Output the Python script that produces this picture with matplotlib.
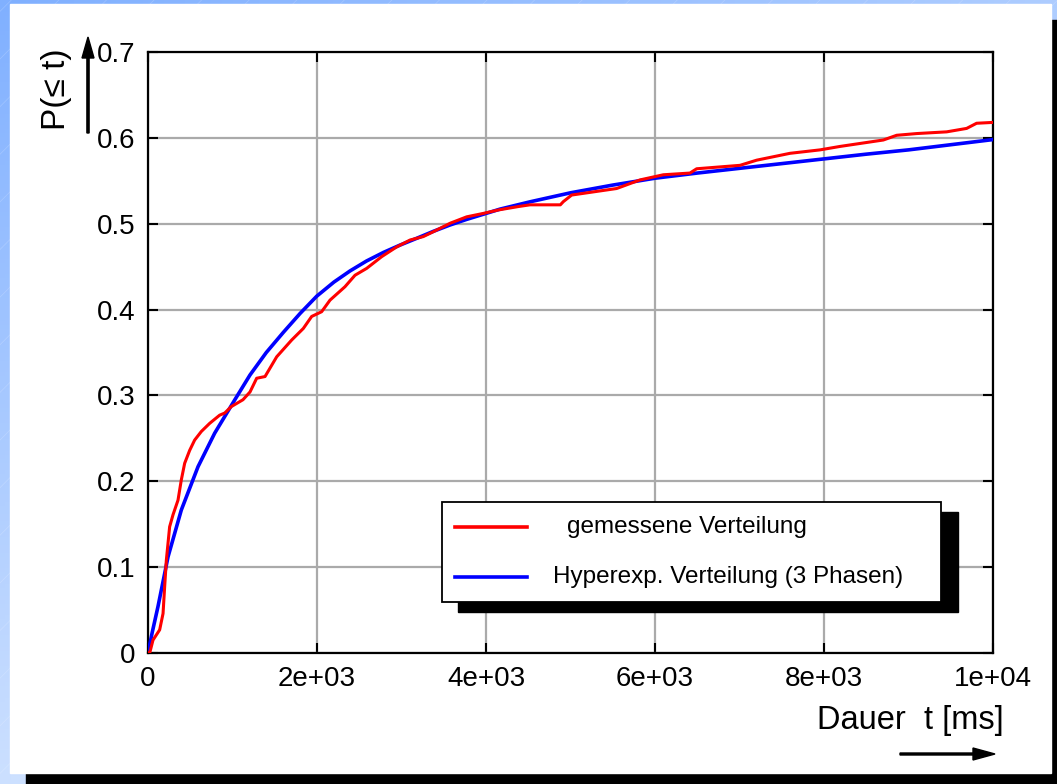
import numpy as np
import matplotlib
matplotlib.use("Agg")
import matplotlib.pyplot as plt
from matplotlib.patches import Rectangle, FancyArrow
from matplotlib.lines import Line2D

plt.rcParams['font.family'] = ['Liberation Sans', 'DejaVu Sans']

# ---- data ----
t_meas = [0, 20, 59, 138, 178, 197, 217, 256, 296, 355, 394, 434, 493, 552, 631, 730,
          848, 908, 986, 1124, 1207, 1286, 1385, 1523, 1700, 1838, 1937, 2055, 2154,
          2331, 2450, 2588, 2765, 2943, 3101, 3258, 3377, 3574, 3771, 3968, 4146, 4383,
          4521, 4880, 4915, 5014, 5546, 5822, 6098, 6414, 6493, 7006, 7203, 7598, 7953,
          8189, 8702, 8860, 9097, 9452, 9688, 9806, 10000]
p_meas = [0, 0, 0.015, 0.027, 0.046, 0.077, 0.108, 0.147, 0.161, 0.178, 0.2015, 0.221,
          0.236, 0.248, 0.258, 0.2675, 0.277, 0.2795, 0.287, 0.295, 0.304, 0.320, 0.322,
          0.345, 0.3645, 0.378, 0.392, 0.3975, 0.411, 0.4266, 0.440, 0.448, 0.4616,
          0.473, 0.481, 0.485, 0.4907, 0.5005, 0.508, 0.512, 0.516, 0.520, 0.522, 0.522,
          0.5257, 0.5334, 0.541, 0.551, 0.557, 0.559, 0.564, 0.568, 0.574, 0.582, 0.586,
          0.590, 0.5975, 0.603, 0.605, 0.607, 0.611, 0.617, 0.618]

t_fit = [0, 50, 118, 237, 394, 592, 789, 1026, 1207, 1400, 1602, 1800, 1996, 2200,
         2391, 2585, 2785, 2980, 3180, 3374, 3574, 3770, 3968, 4166, 4521, 5000, 5500,
         6000, 6500, 7000, 7500, 8000, 8500, 9000, 9500, 10000]
p_fit = [0, 0.024, 0.054, 0.112, 0.1665, 0.217, 0.256, 0.2947, 0.3238, 0.350, 0.3735,
         0.3955, 0.4155, 0.432, 0.445, 0.4565, 0.4665, 0.475, 0.483, 0.491, 0.4985, 0.505,
         0.511, 0.517, 0.5255, 0.536, 0.545, 0.553, 0.559, 0.5645, 0.570, 0.5755, 0.581,
         0.586, 0.592, 0.598]

xticks = [0, 2000, 4000, 6000, 8000, 10000]
xticklabels = ["0", "2e+03", "4e+03", "6e+03", "8e+03", "1e+04"]
yticks = [0, 0.1, 0.2, 0.3, 0.4, 0.5, 0.6, 0.7]
yticklabels = ["0", "0.1", "0.2", "0.3", "0.4", "0.5", "0.6", "0.7"]

W, H = 1057, 784
fig = plt.figure(figsize=(W / 100, H / 100), dpi=100)

def fx(px):
    return px / W

def fy(py):
    return 1 - py / H

# background gradient
bg = fig.add_axes([0, 0, 1, 1], zorder=-10)
yy, xx = np.mgrid[0:1:200j, 0:1:200j]
g = np.clip((xx * 0.6 + yy * 1.0), 0, 1)
c0 = np.array([0x80, 0xb0, 0xff]) / 255
c1 = np.array([0xcc, 0xe0, 0xff]) / 255
img = c0[None, None, :] * (1 - g[..., None]) + c1[None, None, :] * g[..., None]
bg.imshow(img, extent=[0, 1, 0, 1], aspect='auto', origin='upper')
for k in np.arange(-1.0, 1.0, 0.045):
    bg.plot([k, k + 1.0], [0, 1.35], color='white', lw=0.5, alpha=0.2)
bg.set_xlim(0, 1)
bg.set_ylim(0, 1)
bg.axis('off')

# panel shadow + white panel
fig.patches.append(Rectangle((fx(26), fy(784)), fx(1057 - 26), 11 / H,
                             transform=fig.transFigure, color='black', zorder=-5))
fig.patches.append(Rectangle((fx(1051), fy(784)), fx(6), (784 - 20) / H,
                             transform=fig.transFigure, color='black', zorder=-5))
fig.patches.append(Rectangle((fx(10), fy(773)), fx(1041), (773 - 4) / H,
                             transform=fig.transFigure, color='white', zorder=-4))

ax = fig.add_axes([fx(148), fy(653), fx(993 - 148), (653 - 52) / H])
ax.set_facecolor('white')
ax.plot(t_fit, p_fit, color='#0000ff', lw=2.6, zorder=3)
ax.plot(t_meas, p_meas, color='#ff0000', lw=2.2, zorder=4)
ax.set_xlim(0, 10000)
ax.set_ylim(0, 0.7)
ax.set_xticks(xticks)
ax.set_xticklabels(xticklabels)
ax.set_yticks(yticks)
ax.set_yticklabels(yticklabels)
ax.grid(True, color='#aaaaaa', lw=1.6)
ax.tick_params(direction='in', length=7, width=1.5, labelsize=20, pad=9,
               top=True, right=True, colors='black')
for s in ax.spines.values():
    s.set_linewidth(1.6)
    s.set_color('black')

# axis labels with arrows
fig.text(fx(910), fy(721), "Dauer  t [ms]", fontsize=23.5, ha='center', va='center')
fig.add_artist(FancyArrow(fx(900), fy(754), fx(73), 0, width=2.0 / H, head_width=12 / H,
                          head_length=fx(22), length_includes_head=False,
                          transform=fig.transFigure, color='black'))
fig.text(fx(57), fy(89), "P(≤ t)", fontsize=24, ha='center', va='center', rotation=90)
fig.add_artist(FancyArrow(fx(88), fy(133), 0, 75 / H, width=fx(2.2), head_width=fx(12),
                          head_length=21 / H, length_includes_head=False,
                          transform=fig.transFigure, color='black'))

# legend (manual, with hard shadow)
fig.patches.append(Rectangle((fx(458), fy(612)), fx(500), 100 / H,
                             transform=fig.transFigure, color='black', zorder=5))
fig.patches.append(Rectangle((fx(442), fy(602)), fx(499), 100 / H,
                             transform=fig.transFigure, facecolor='white',
                             edgecolor='black', lw=1.3, zorder=6))
fig.add_artist(Line2D([fx(455), fx(527)], [fy(527), fy(527)], color='#ff0000', lw=2.6,
                      transform=fig.transFigure, zorder=7))
fig.add_artist(Line2D([fx(455), fx(527)], [fy(577), fy(577)], color='#0000ff', lw=2.6,
                      transform=fig.transFigure, zorder=7))
t1 = fig.text(fx(567), fy(527), "gemessene Verteilung", fontsize=17.5, ha='left', va='center')
t2 = fig.text(fx(553), fy(577), "Hyperexp. Verteilung (3 Phasen)", fontsize=17.5,
              ha='left', va='center')
t1.set_zorder(8)
t2.set_zorder(8)

fig.savefig("out.png", dpi=100)
